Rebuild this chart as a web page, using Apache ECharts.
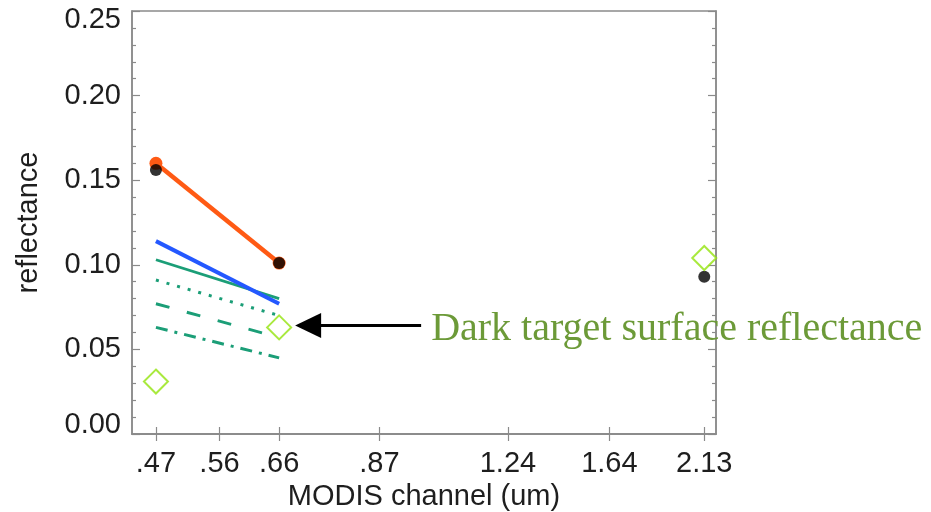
<!DOCTYPE html>
<html>
<head>
<meta charset="utf-8">
<script src="https://cdn.jsdelivr.net/npm/echarts@6/dist/echarts.min.js"></script>
<style>
  html, body { margin: 0; padding: 0; background: #fff; }
  #chart { width: 931px; height: 512px; }
</style>
</head>
<body>
<div id="chart"></div>
<script>
// MODIS channel centre wavelengths (um) and their tick labels
const channels = [0.47, 0.56, 0.66, 0.87, 1.24, 1.64, 2.13];
const channelLabels = ['.47', '.56', '.66', '.87', '1.24', '1.64', '2.13'];

// Visible-band line estimates (0.47 and 0.66 um)
const visX = [0.47, 0.66];
const orangeRefl = [0.160, 0.101];
const blueRefl = [0.114, 0.077];
const greenSolidRefl = [0.103, 0.080];
const greenDottedRefl = [0.091, 0.070];
const greenDashedRefl = [0.077, 0.057];
const greenDashDotRefl = [0.063, 0.045];

// Points at 0.47, 0.66 and 2.13 um
const pointX = [0.47, 0.66, 2.13];
const blackRefl = [0.156, 0.101, 0.093];
const darkTargetRefl = [0.031, 0.063, 0.104];

const annotationText = 'Dark target surface reflectance';

const pair = (xs, ys) => xs.map((x, i) => [x, ys[i]]);
const labelFor = v => {
  const i = channels.findIndex(c => Math.abs(c - v) < 1e-6);
  return i >= 0 ? channelLabels[i] : '';
};

const FRAME = '#8a8a8a';
const TEXT = '#1e1e1e';
const SANS = '"Liberation Sans", Arial, Helvetica, sans-serif';
const GREEN = '#1b9e77';
const LIME = '#94e40e';

const chart = echarts.init(document.getElementById('chart'), null, { renderer: 'canvas' });

const xBase = {
  type: 'log',
  logBase: 10,
  min: 0.44,
  max: 2.2,
  splitLine: { show: false },
  axisLine: { show: true, lineStyle: { color: FRAME, width: 1.5 } },
  axisTick: { show: true, inside: true, length: 7, customValues: channels, lineStyle: { color: FRAME, width: 1.2 } },
  minorTick: { show: false }
};

const yBase = {
  type: 'value',
  min: 0,
  max: 0.25,
  interval: 0.05,
  splitLine: { show: false },
  axisLine: { show: true, lineStyle: { color: FRAME, width: 1.5 } },
  axisTick: { show: true, inside: true, length: 8, lineStyle: { color: FRAME, width: 1.2 } },
  minorTick: { show: true, splitNumber: 5, length: 4, lineStyle: { color: FRAME, width: 1.2 } }
};

const lineSeries = (ys, color, width, type, extra) => Object.assign({
  type: 'line',
  data: pair(visX, ys),
  xAxisIndex: 0,
  yAxisIndex: 0,
  symbol: 'none',
  silent: true,
  lineStyle: { color: color, width: width, type: type, cap: 'butt' },
  z: 2
}, extra || {});

chart.setOption({
  animation: false,
  backgroundColor: '#ffffff',
  grid: {
    left: 132, top: 11, right: 215, bottom: 78,
    containLabel: false,
    outerBoundsMode: 'none',
    show: true, borderColor: FRAME, borderWidth: 1.5, backgroundColor: '#ffffff'
  },
  xAxis: [
    Object.assign({}, xBase, {
      position: 'bottom',
      name: 'MODIS channel (um)',
      nameLocation: 'middle',
      nameGap: 45,
      nameTextStyle: { fontFamily: SANS, fontSize: 29, color: TEXT },
      axisLabel: {
        show: true, customValues: channels, margin: 15,
        fontFamily: SANS, fontSize: 29, color: TEXT,
        formatter: v => labelFor(v)
      }
    }),
    Object.assign({}, xBase, { position: 'top', axisLabel: { show: false } })
  ],
  yAxis: [
    Object.assign({}, yBase, {
      position: 'left',
      name: 'reflectance',
      nameLocation: 'middle',
      nameGap: 89,
      nameTextStyle: { fontFamily: SANS, fontSize: 29, color: TEXT },
      axisLabel: {
        show: true, margin: 11,
        fontFamily: SANS, fontSize: 29, color: TEXT, lineHeight: 18,
        formatter: v => v.toFixed(2),
        verticalAlignMinLabel: 'bottom',
        verticalAlignMaxLabel: 'top'
      }
    }),
    Object.assign({}, yBase, { position: 'right', axisLabel: { show: false } })
  ],
  series: [
    lineSeries(greenSolidRefl, GREEN, 2.8, 'solid'),
    lineSeries(greenDottedRefl, GREEN, 3, [3, 8]),
    lineSeries(greenDashedRefl, GREEN, 3, [14, 18]),
    lineSeries(greenDashDotRefl, GREEN, 3, [12, 7, 3, 7]),
    lineSeries(blueRefl, '#2458ff', 4, 'solid', { z: 3 }),
    lineSeries(orangeRefl, '#ff5a14', 4.5, 'solid', {
      z: 4,
      symbol: 'circle',
      symbolSize: 13,
      showSymbol: true,
      itemStyle: { color: '#ff5a14' }
    }),
    {
      type: 'scatter',
      data: pair(pointX, blackRefl),
      symbol: 'circle',
      symbolSize: 12,
      itemStyle: { color: '#000000' },
      silent: true,
      z: 5
    },
    {
      type: 'scatter',
      data: pair(pointX, darkTargetRefl),
      symbol: 'emptyDiamond',
      symbolSize: 24,
      itemStyle: { color: LIME, borderColor: LIME, borderWidth: 3 },
      silent: true,
      z: 6
    }
  ]
});

// Arrow and caption pointing at the 0.66 um dark-target point
const anchor = chart.convertToPixel({ xAxisIndex: 0, yAxisIndex: 0 }, [channels[2], darkTargetRefl[1]]);
const tipX = anchor[0] + 16;
const ay = anchor[1] - 2;
chart.setOption({
  graphic: [
    {
      type: 'line',
      shape: { x1: tipX + 20, y1: ay, x2: tipX + 126, y2: ay },
      style: { stroke: '#000', lineWidth: 3 },
      z: 100
    },
    {
      type: 'polygon',
      shape: { points: [[tipX, ay], [tipX + 26, ay - 12.5], [tipX + 26, ay + 12.5]] },
      style: { fill: '#000' },
      z: 100
    },
    {
      type: 'text',
      x: tipX + 136,
      y: ay + 4,
      style: {
        text: annotationText,
        fontFamily: '"Liberation Serif", "Times New Roman", serif',
        fontSize: 40,
        fill: '#6c9a38',
        verticalAlign: 'middle',
        align: 'left'
      },
      z: 100
    }
  ]
});
</script>
</body>
</html>
